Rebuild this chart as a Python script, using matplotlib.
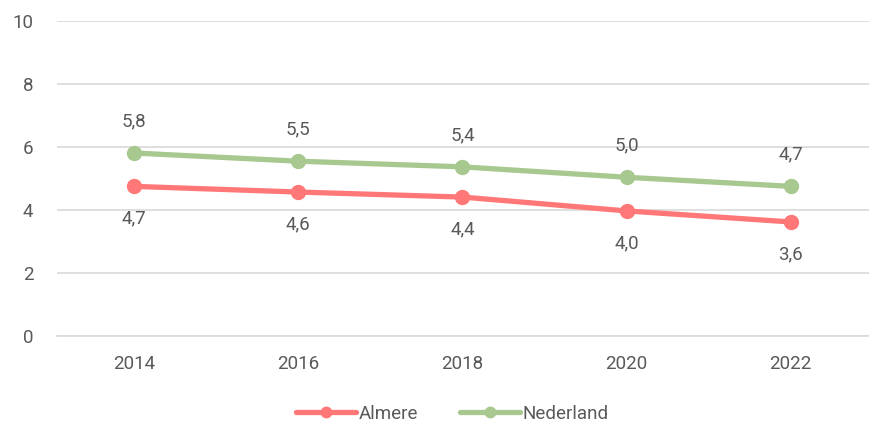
import matplotlib
matplotlib.use('Agg')
import matplotlib.pyplot as plt

years = ['2014', '2016', '2018', '2020', '2022']
almere = [4.75, 4.57, 4.41, 3.97, 3.62]
nederland = [5.81, 5.55, 5.37, 5.04, 4.75]
almere_labels = ['4,7', '4,6', '4,4', '4,0', '3,6']
nederland_labels = ['5,8', '5,5', '5,4', '5,0', '4,7']

red = '#FF7777'
green = '#A7C88E'
grey = '#595959'

plt.rcParams['font.family'] = ['Roboto', 'DejaVu Sans']
fs = 13.5

fig = plt.figure(figsize=(8.7, 4.22), dpi=100)
ax = fig.add_axes([0.0655, 0.204, 0.934, 0.746])

x = list(range(len(years)))
ax.plot(x, almere, color=red, lw=3.8, marker='o', ms=10, label='Almere',
        solid_capstyle='round')
ax.plot(x, nederland, color=green, lw=3.8, marker='o', ms=10, label='Nederland',
        solid_capstyle='round')

for i in x:
    ax.annotate(nederland_labels[i], (i, nederland[i]), xytext=(0, 23),
                textcoords='offset points', ha='center', va='center',
                fontsize=fs, color=grey)
    ax.annotate(almere_labels[i], (i, almere[i]), xytext=(0, -23),
                textcoords='offset points', ha='center', va='center',
                fontsize=fs, color=grey)

ax.set_xlim(-0.47, 4.48)
ax.set_ylim(0, 10)
ax.set_yticks([0, 2, 4, 6, 8, 10])
ax.set_xticks(x)
ax.set_xticklabels(years)
ax.yaxis.grid(True, color='#D9D9D9', lw=1.2)
ax.set_axisbelow(True)
for s in ax.spines.values():
    s.set_visible(False)
ax.spines['bottom'].set_visible(True)
ax.spines['bottom'].set_color('#D9D9D9')
ax.spines['bottom'].set_linewidth(1.2)
ax.tick_params(length=0, labelsize=fs, labelcolor=grey)
ax.tick_params(axis='x', pad=14)
ax.tick_params(axis='y', pad=17)

fig.legend(loc='lower center', bbox_to_anchor=(0.52, -0.042), ncol=2, frameon=False,
           fontsize=fs, labelcolor=grey, handlelength=3.2, handletextpad=0.15,
           columnspacing=2.2, markerscale=0.75)

fig.savefig('out.png', dpi=100)
